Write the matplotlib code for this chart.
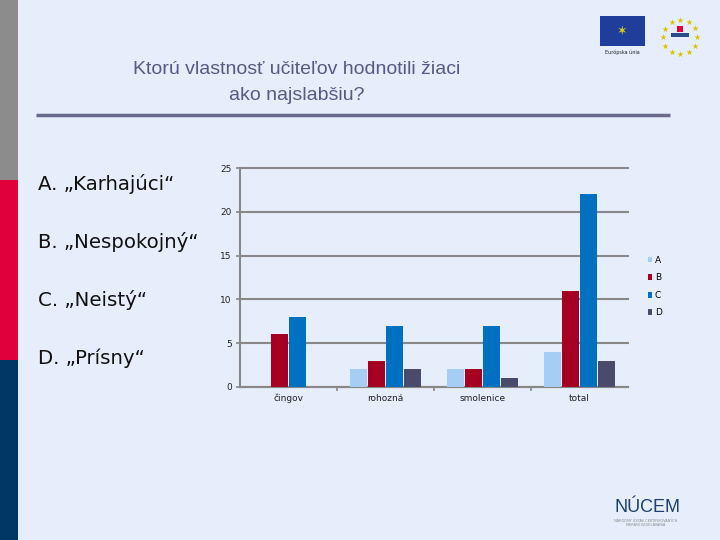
import matplotlib
matplotlib.use("Agg")
import matplotlib.pyplot as plt
from matplotlib.patches import Rectangle
import numpy as np

# data
categories = ["čingov", "rohozná", "smolenice", "total"]
series_names = ["A", "B", "C", "D"]
values_a = [0, 2, 2, 4]
values_b = [6, 3, 2, 11]
values_c = [8, 7, 7, 22]
values_d = [0, 2, 1, 3]
answers = ["A. „Karhajúci“", "B. „Nespokojný“", "C. „Neistý“", "D. „Prísny“"]
title_lines = ["Ktorú vlastnosť učiteľov hodnotili žiaci", "ako najslabšiu?"]

BG = "#E6EEFB"
colors = ["#A6CEF5", "#A50021", "#0070C0", "#4A4A6A"]

W, H = 720, 540
fig = plt.figure(figsize=(W / 100, H / 100), dpi=100, facecolor=BG)


def px(x, y, w, h):
    return [x / W, 1 - (y + h) / H, w / W, h / H]


# left color strip
strip = fig.add_axes([0, 0, 1, 1], zorder=-1)
strip.set_xlim(0, W)
strip.set_ylim(H, 0)
strip.axis("off")
strip.add_patch(Rectangle((0, 0), 18, 180, color="#8C8C8C", lw=0))
strip.add_patch(Rectangle((0, 180), 18, 180, color="#E0003C", lw=0))
strip.add_patch(Rectangle((0, 360), 18, 180, color="#003764", lw=0))
# separator under title
strip.plot([36, 670], [115, 115], color="#6A6A8C", lw=2.5, solid_capstyle="butt")
# logos (rough)
strip.add_patch(Rectangle((600, 16), 45, 30, color="#1F3E9C", lw=0))
strip.text(622, 52, "Európska únia", fontsize=3.5, ha="center", va="center", color="#222222")
strip.text(622, 31, "✶", fontsize=9, ha="center", va="center", color="#E8D000")
ang = np.linspace(0, 2 * np.pi, 12, endpoint=False)
strip.scatter(680 + 17 * np.cos(ang), 37 + 17 * np.sin(ang), marker="*", s=22,
              color="#D9C400", lw=0)
strip.add_patch(Rectangle((671, 33), 18, 4, color="#2A4D8A", lw=0))
strip.add_patch(Rectangle((677, 26), 6, 6, color="#E0003C", lw=0))
strip.text(648, 508, "NÚCEM", fontsize=13, ha="center", va="center", color="#1C3F6E",
           family="Liberation Sans")
strip.text(646, 523, "NÁRODNÝ ÚSTAV CERTIFIKOVANÝCH\nMERANÍ VZDELÁVANIA", fontsize=2.5,
           ha="center", va="center", color="#8A8A8A", linespacing=1.2)

for i, line in enumerate(title_lines):
    fig.text(297 / W, 1 - (69 + i * 27) / H, line, ha="center", va="center", fontsize=14,
             color="#565A84", family="Liberation Sans")

for i, label in enumerate(answers):
    fig.text(38 / W, 1 - (184 + i * 58) / H, label, ha="left", va="center",
             fontsize=14.2, color="#111111", family="DejaVu Sans")

# chart
ax = fig.add_axes(px(240, 168, 388, 219))
ax.set_facecolor(BG)
x = np.arange(len(categories))
step = 0.185
width = 0.175
all_values = [values_a, values_b, values_c, values_d]
for k, (name, vals, col) in enumerate(zip(series_names, all_values, colors)):
    ax.bar(x + (k - 1.5) * step, vals, width, color=col, label=name, zorder=3)

ax.set_xlim(-0.5, 3.5)
ax.set_ylim(0, 25)
ax.set_yticks([0, 5, 10, 15, 20, 25])
ax.grid(axis="y", color="#888888", lw=1.5, zorder=0)
for gl in ax.get_ygridlines():
    gl.set_clip_on(False)
ax.set_xticks(x)
ax.set_xticklabels(categories)
ax.tick_params(axis="x", length=0, labelsize=6.5, pad=5, labelcolor="#222222")
ax.set_xticks([0.5, 1.5, 2.5], minor=True)
ax.tick_params(axis="x", which="minor", length=3, width=1.2, color="#888888")
ax.tick_params(axis="y", length=3, width=1.2, color="#888888", labelsize=6.5,
               labelcolor="#222222", pad=3)
for side in ["top", "right"]:
    ax.spines[side].set_visible(False)
for side in ["left", "bottom"]:
    ax.spines[side].set_color("#888888")
    ax.spines[side].set_linewidth(1.5)

leg = ax.legend(loc="upper left", bbox_to_anchor=(1.04, 0.62), frameon=False,
                fontsize=6.5, handlelength=0.45, handleheight=0.6, handletextpad=0.3,
                labelspacing=0.95, borderpad=0)

fig.savefig("out.png", dpi=100, facecolor=BG)
